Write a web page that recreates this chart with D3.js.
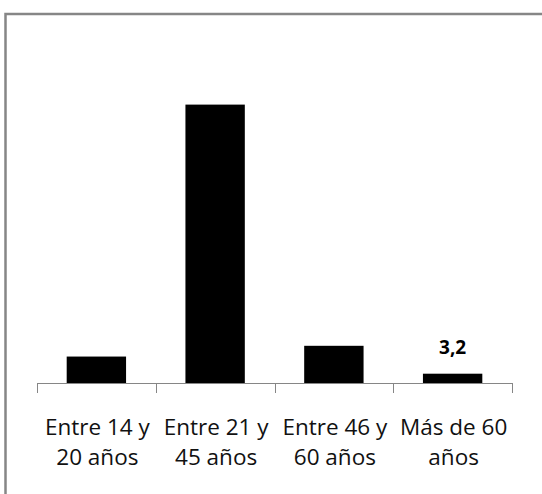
<!DOCTYPE html>
<html>
  <head>
    <meta charset="utf-8">
    <title>Edades</title>
    <script src="https://cdn.jsdelivr.net/npm/d3@7"></script>
    <style>
      body { margin: 0; background: #fff; }
      svg { display: block; }
    </style>
  </head>
  <body>
    <svg width="542" height="494" id="mainsvg"></svg>
    <script>

    // data
    const categories = ['Entre 14 y|20 años', 'Entre 21 y|45 años', 'Entre 46 y|60 años', 'Más de 60|años'];
    const values = [9.1, 95.8, 12.8, 3.2];
    const labelShown = [false, false, false, true];

    let svg = d3.select('svg');

    // outer chart border (runs off the right and bottom)
    svg.append('rect')
      .attr('x', 5.5).attr('y', 14)
      .attr('width', 600).attr('height', 600)
      .attr('fill', 'none')
      .attr('stroke', '#868686')
      .attr('stroke-width', 2.5);

    const x = d3.scaleBand()
      .domain(categories)
      .range([37, 512])
      .paddingInner(0.5)
      .paddingOuter(0.25);

    const y = d3.scaleLinear()
      .domain([0, 100])
      .range([383, 92.4]);

    // bars
    svg.selectAll('rect.bar')
      .data(values)
      .enter().append('rect')
      .attr('class', 'bar')
      .attr('x', (d, i) => x(categories[i]))
      .attr('width', x.bandwidth())
      .attr('y', d => y(d))
      .attr('height', d => y(0) - y(d))
      .attr('fill', '#000');

    // axis line + ticks between categories
    const step = x.step();
    const ticks = d3.range(categories.length + 1).map(i => 37 + i * step);
    svg.append('line')
      .attr('x1', 37).attr('x2', 512)
      .attr('y1', y(0) + 0.5).attr('y2', y(0) + 0.5)
      .attr('stroke', '#868686');
    svg.selectAll('line.tick')
      .data(ticks)
      .enter().append('line')
      .attr('class', 'tick')
      .attr('x1', d => Math.round(d) + 0.5).attr('x2', d => Math.round(d) + 0.5)
      .attr('y1', y(0)).attr('y2', y(0) + 10)
      .attr('stroke', '#868686');

    // category labels, two lines each
    const lbl = svg.selectAll('text.cat')
      .data(categories)
      .enter().append('text')
      .attr('class', 'cat')
      .attr('text-anchor', 'middle')
      .attr('font-family', 'Open Sans, sans-serif')
      .attr('font-size', 22.5)
      .attr('fill', '#111');
    lbl.each(function(d) {
      const parts = d.split('|');
      const cx = x(d) + x.bandwidth() / 2 + 1;
      parts.forEach((p, j) => {
        d3.select(this).append('tspan')
          .attr('x', cx)
          .attr('y', 435 + j * 30)
          .text(p);
      });
    });

    // data label (only the last bar carries one)
    svg.selectAll('text.val')
      .data(values.filter((d, i) => labelShown[i]))
      .enter().append('text')
      .attr('class', 'val')
      .attr('x', d => x(categories[values.indexOf(d)]) + x.bandwidth() / 2)
      .attr('y', d => y(d) - 20)
      .attr('text-anchor', 'middle')
      .attr('font-family', 'Open Sans, sans-serif')
      .attr('font-weight', 'bold')
      .attr('font-size', 19)
      .text(d => String(d).replace('.', ','));

  </script>
  </body>
</html>
